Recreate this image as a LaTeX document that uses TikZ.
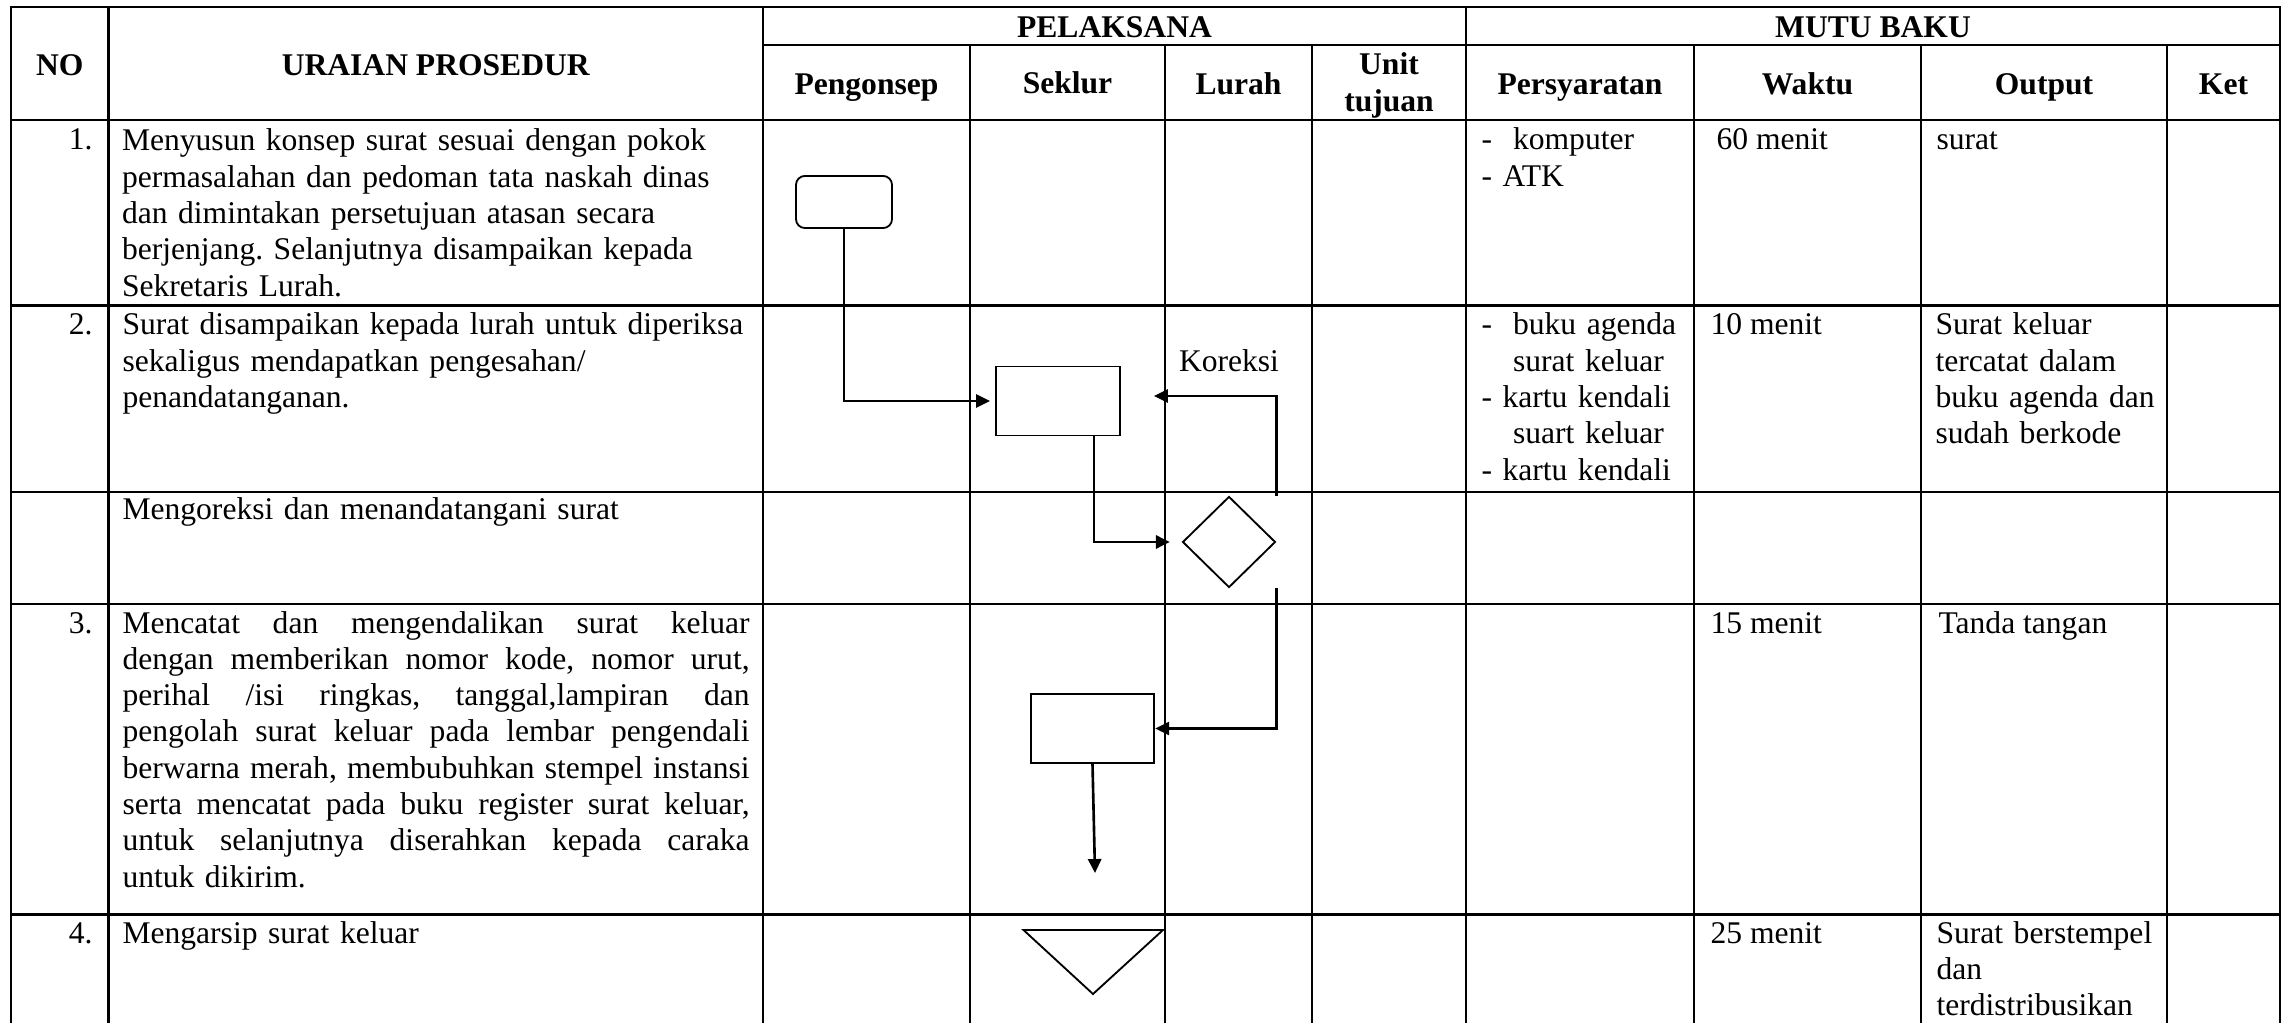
\documentclass[tikz,border=0pt]{standalone}
\usepackage{fontspec}
\setmainfont{Liberation Serif}
\usetikzlibrary{arrows.meta,shapes.geometric,calc}
\newcommand{\jline}[1]{{\spaceskip=\fontdimen2\font plus 1fil\relax\xspaceskip=\spaceskip\makebox[238.3pt][s]{#1}}}
\begin{document}
\frenchspacing
\begin{tikzpicture}[x=0.38pt,y=-0.38pt,
  grid/.style={line width=0.8pt, line cap=rect},
  txt/.style={font=\fontsize{12}{13.8}\selectfont\frenchspacing, inner sep=0pt, anchor=base west, align=left},
  hdr/.style={font=\fontsize{12}{13.8}\selectfont\bfseries, inner sep=0pt, anchor=base, align=center},
  num/.style={font=\fontsize{12}{13.8}\selectfont, inner sep=0pt, anchor=base east},
  startbox/.style={draw, line width=0.7pt, rounded corners=3.4pt, inner sep=0pt, minimum width=36.5pt, minimum height=19.8pt},
  procbox/.style={draw, line width=0.7pt, inner sep=0pt, minimum width=47pt, minimum height=26.2pt},
  decbox/.style={draw, diamond, line width=0.7pt, inner sep=0pt, minimum width=35.3pt, minimum height=34.6pt},
  flow/.style={line width=1pt, -{Triangle[length=5.3pt,width=5pt]}},
  shapeline/.style={line width=0.7pt, line join=miter}
]
\useasboundingbox (0,0) rectangle (2290,1023);
% grid
\draw[grid] (11,7) -- (2280,7);
\draw[grid] (763,45) -- (2280,45);
\foreach \y in {120,305.5,491.7,604,914.5} \draw[grid] (11,\y) -- (2280,\y);
\foreach \x in {11,108.5,763,1466,2280} \draw[grid] (\x,7) -- (\x,1023);
\foreach \x in {970,1165,1312,1694,1921,2167} \draw[grid] (\x,45) -- (\x,1023);
% headers
\node[hdr] (hno) at (59.75,76) {NO};
\node[hdr] (hur) at (435.75,76) {URAIAN PROSEDUR};
\node[hdr] (hpel) at (1114.5,38) {PELAKSANA};
\node[hdr] (hmutu) at (1873,38) {MUTU BAKU};
\node[hdr] (hpen) at (866.5,95) {Pengonsep};
\node[hdr] (hsek) at (1067.5,94) {Seklur};
\node[hdr] (hlur) at (1238.5,95) {Lurah};
\node[hdr, text width=55pt] (hunit) at (1389,75) {Unit\\tujuan};
\node[hdr] (hpers) at (1580,95) {Persyaratan};
\node[hdr] (hwak) at (1807.5,95) {Waktu};
\node[hdr] (hout) at (2044,95) {Output};
\node[hdr] (hket) at (2223.5,95) {Ket};
% numbers
\node[num] (n1) at (93,150) {1.};
\node[num] (n2) at (93,335) {2.};
\node[num] (n3) at (93,633) {3.};
\node[num] (n4) at (93,943) {4.};
% procedure texts
\node[txt, text width=238.3pt] (r1) at (121.5,151) {Menyusun konsep surat sesuai dengan pokok\\permasalahan dan pedoman tata naskah dinas\\dan dimintakan persetujuan atasan secara\\berjenjang. Selanjutnya disampaikan kepada\\Sekretaris Lurah.};
\node[txt, text width=238.3pt] (r2) at (122,335) {Surat disampaikan kepada lurah untuk diperiksa\\sekaligus mendapatkan pengesahan/\\penandatanganan.};
\node[txt, text width=238.3pt] (rk) at (122,520) {Mengoreksi dan menandatangani surat};
\node[txt, text width=238.3pt] (r3) at (122,633) {\jline{Mencatat dan mengendalikan surat keluar}\\\jline{dengan memberikan nomor kode, nomor urut,}\\\jline{perihal /isi ringkas, tanggal,lampiran dan}\\\jline{pengolah surat keluar pada lembar pengendali}\\\jline{berwarna merah, membubuhkan stempel instansi}\\\jline{serta mencatat pada buku register surat keluar,}\\\jline{untuk selanjutnya diserahkan kepada caraka}\\untuk dikirim.};
\node[txt, text width=238.3pt] (r4) at (122,943) {Mengarsip surat keluar};
% persyaratan
\node[txt, text width=80pt] (s1) at (1481,150) {-\ \ komputer\\- ATK};
\node[txt, text width=80pt] (s2) at (1481,335) {-\ \ buku agenda\\\phantom{-}\ \ surat keluar\\- kartu kendali\\\phantom{-}\ \ suart keluar\\- kartu kendali};
% waktu
\node[txt] (w1) at (1716,150) {60 menit};
\node[txt] (w2) at (1710,335) {10 menit};
\node[txt] (w3) at (1710,633) {15 menit};
\node[txt] (w4) at (1710,943) {25 menit};
% output
\node[txt] (o1) at (1936,150) {surat};
\node[txt, text width=90pt] (o2) at (1935,335) {Surat keluar\\tercatat dalam\\buku agenda dan\\sudah berkode};
\node[txt] (o3) at (1938,633) {Tanda tangan};
\node[txt, text width=90pt] (o4) at (1936,943) {Surat berstempel\\dan\\terdistribusikan};
% flow shapes
\node[startbox] (start) at (844,202) {};
\node[procbox] (p1) at (1058,401) {};
\node[decbox] (dec) at (1229,542) {};
\node[procbox] (p2) at (1092.5,728.5) {};
\coordinate (kor) at (1154,396);
\coordinate (out) at (1095,873);
\node[txt, anchor=base] (korlabel) at (1229,372) {Koreksi};
\draw[shapeline] (1023.5,930) -- (1163,930) -- (1093,994) -- cycle;
% connectors
\draw[flow, shorten >=2pt] (start.south) |- (p1.west);
\draw[flow, shorten >=4.5pt] ([xshift=13.7pt]p1.south) |- (dec.west);
\draw[flow] (dec.east |- dec.north) |- (kor);
\draw[flow] (dec.east |- dec.south) |- (p2.east);
\draw[flow] (p2.south) -- (out);
\end{tikzpicture}
\end{document}
